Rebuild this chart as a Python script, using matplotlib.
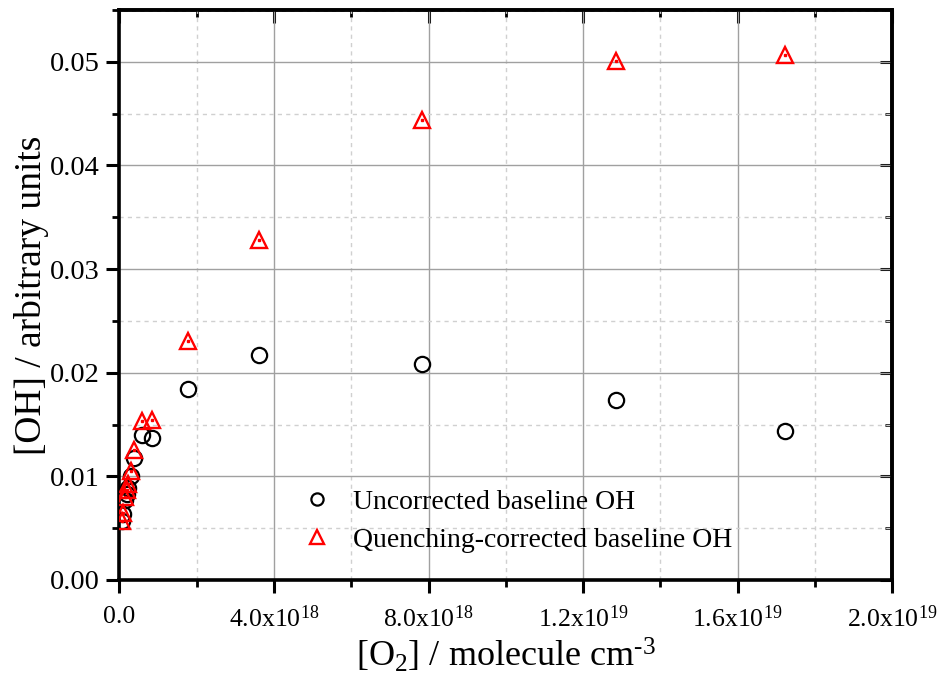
import matplotlib
matplotlib.use("Agg")
import matplotlib.pyplot as plt
from matplotlib.ticker import MultipleLocator, FuncFormatter

plt.rcParams['font.family'] = ['Liberation Serif', 'DejaVu Serif']
plt.rcParams['mathtext.fontset'] = 'custom'
plt.rcParams['mathtext.rm'] = 'Liberation Serif'
plt.rcParams['mathtext.it'] = 'Liberation Serif:italic'

# O2 concentration (molecule cm^-3) and OH signal
o2 = [0.06e18, 0.10e18, 0.14e18, 0.19e18, 0.22e18, 0.29e18, 0.38e18,
      0.58e18, 0.84e18, 1.78e18, 3.61e18, 7.83e18, 1.286e19, 1.724e19]
oh_uncorrected = [0.0057, 0.0064, 0.0077, 0.0083, 0.0089, 0.0100, 0.0118,
                  0.0140, 0.0137, 0.0184, 0.0217, 0.0208, 0.0174, 0.0144]
oh_corrected = [0.0057, 0.0065, 0.0080, 0.0087, 0.0093, 0.0105, 0.0125,
                0.0153, 0.0154, 0.0231, 0.0328, 0.0444, 0.0501, 0.0507]

labels = ["Uncorrected baseline OH", "Quenching-corrected baseline OH"]

fig = plt.figure(figsize=(9.4, 6.95), dpi=100)
ax = fig.add_axes([0.1271, 0.1655, 0.949 - 0.1271, 0.9856 - 0.1655])

ax.plot(o2, oh_uncorrected, linestyle='none', marker='o', markersize=11,
        markerfacecolor='none', markeredgecolor='black', markeredgewidth=1.6,
        label=labels[0], zorder=3)
ax.plot(o2, oh_corrected, linestyle='none', marker='^', markersize=12,
        markerfacecolor='none', markeredgecolor='red', markeredgewidth=1.7,
        label=labels[1], zorder=4)
# small centre dot inside each triangle
ax.plot(o2, oh_corrected, linestyle='none', marker='s', markersize=1.8,
        markerfacecolor='red', markeredgecolor='red', zorder=4)

ax.set_xlim(0, 2.0e19)
ax.set_ylim(0, 0.055)

ax.xaxis.set_major_locator(MultipleLocator(4e18))
ax.xaxis.set_minor_locator(MultipleLocator(2e18))
ax.yaxis.set_major_locator(MultipleLocator(0.01))
ax.yaxis.set_minor_locator(MultipleLocator(0.005))


def sci_fmt(v, pos):
    if v == 0:
        return "0.0"
    exp = int(f"{v:e}".split("e")[1])
    mant = v / 10 ** exp
    return r"$\mathregular{%.1fx10^{%d}}$" % (mant, exp)


ax.xaxis.set_major_formatter(FuncFormatter(sci_fmt))
ax.yaxis.set_major_formatter(FuncFormatter(lambda v, p: f"{v:.2f}"))

ax.grid(which='major', color='#a0a0a0', linewidth=1.0, linestyle='-')
ax.grid(which='minor', color='#d0d0d0', linewidth=1.0, linestyle=(0, (3, 3)))
ax.set_axisbelow(True)

for s in ax.spines.values():
    s.set_linewidth(2.6)
    s.set_color('black')

ax.tick_params(axis='both', which='major', direction='out', length=9.5, width=2.2,
               top=False, right=False)
ax.tick_params(axis='x', which='major', pad=9, labelsize=18.5)
ax.tick_params(axis='y', which='major', pad=5, labelsize=20.5)
ax.tick_params(axis='both', which='minor', direction='out', length=5, width=2.0,
               top=False, right=False)

# mirrored inward ticks on top and right
axt = ax.secondary_xaxis('top')
axt.xaxis.set_major_locator(MultipleLocator(4e18))
axt.xaxis.set_minor_locator(MultipleLocator(2e18))
axt.tick_params(which='major', direction='in', length=9, width=2.2, labeltop=False)
axt.tick_params(which='minor', direction='in', length=5, width=2.0)
axt.spines['top'].set_linewidth(2.6)
axr = ax.secondary_yaxis('right')
axr.yaxis.set_major_locator(MultipleLocator(0.01))
axr.yaxis.set_minor_locator(MultipleLocator(0.005))
axr.tick_params(which='major', direction='in', length=9, width=2.2, labelright=False)
axr.tick_params(which='minor', direction='in', length=5, width=2.0)
axr.spines['right'].set_linewidth(2.6)

ax.set_xlabel(r"[O$_\mathregular{2}$] / molecule cm$^\text{-3}$", fontsize=26, labelpad=3)
ax.set_ylabel("[OH] / arbitrary units", fontsize=27, labelpad=0)

leg = ax.legend(handles=ax.lines[:2], loc='upper left', bbox_to_anchor=(0.194, 0.203),
                frameon=False, fontsize=20, handletextpad=0.5, labelspacing=0.45,
                handlelength=1.6, markerscale=0.8)

fig.savefig("out.png", dpi=100)
